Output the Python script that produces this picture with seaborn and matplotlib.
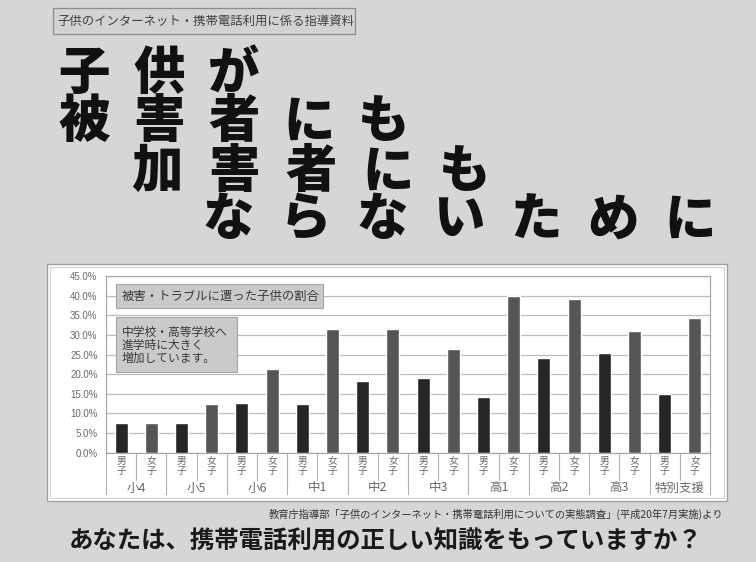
import matplotlib

matplotlib.use("Agg")
import matplotlib.pyplot as plt
from matplotlib.patches import Rectangle
from matplotlib.ticker import FuncFormatter
import pandas as pd
import seaborn as sns

W, H = 756, 562

# data (percent)
grades = ["小4", "小5", "小6", "中1", "中2", "中3", "高1", "高2", "高3", "特別支援"]
sexes = ["男子", "女子"]
boys = [7.5, 7.5, 12.7, 12.3, 18.2, 18.9, 14.2, 24.0, 25.4, 14.9]
girls = [7.5, 12.3, 21.2, 31.4, 31.4, 26.4, 39.9, 39.1, 31.1, 34.2]
y_ticks = [0, 5, 10, 15, 20, 25, 30, 35, 40, 45]

header = "子供のインターネット・携帯電話利用に係る指導資料"
title_lines = ["子供が", "被害者にも", "加害者にも", "ならないために"]
note_title = "被害・トラブルに遭った子供の割合"
note_body = ["中学校・高等学校へ", "進学時に大きく", "増加しています。"]
source = "教育庁指導部「子供のインターネット・携帯電話利用についての実態調査」(平成20年7月実施)より"
footer = "あなたは、携帯電話利用の正しい知識をもっていますか？"

sns.set_theme(style="white")
plt.rcParams["font.family"] = ["Noto Sans CJK JP", "DejaVu Sans"]

BG = "#d6d6d6"
BOY_C = "#262626"
GIRL_C = "#555555"
LABEL_C = "#6a6a6a"


def fx(x):
    return x / W


def fy(y):
    return 1 - y / H


def px_rect(x0, y0, x1, y1, **kw):
    return Rectangle((fx(x0), fy(y1)), (x1 - x0) / W, (y1 - y0) / H,
                     transform=fig.transFigure, **kw)


fig = plt.figure(figsize=(W / 100, H / 100), dpi=100, facecolor=BG)

# header tag
fig.add_artist(px_rect(53, 8, 355, 34, facecolor="#d2d2d2", edgecolor="#8c8c8c", lw=0.9))
fig.text(fx(57), fy(21), header, ha="left", va="center", fontsize=8.9, color="#404040")

# big staggered title, one glyph per slot to get the wide poster lettering
title_x0 = [84, 84, 157, 228]
title_pitch = [75, 75, 77, 77]
title_y = [74, 122, 172, 220]
for line, x0, pitch, yc in zip(title_lines, title_x0, title_pitch, title_y):
    for i, ch in enumerate(line):
        fig.text(fx(x0 + i * pitch), fy(yc), ch, ha="center", va="center",
                 fontsize=37, fontweight="black", color="#111111")

# white chart panel with double border
fig.add_artist(px_rect(47, 264, 727, 501, facecolor="white", edgecolor="#a0a0a0", lw=1.0))
fig.add_artist(px_rect(50, 267, 724, 498, facecolor="none", edgecolor="#d0d0d0", lw=0.8))

ax = fig.add_axes([fx(106), fy(452.7), 604 / W, 176.7 / H])
ax.set_zorder(2)
ax.patch.set_alpha(0)

rows = []
for g, b, gl in zip(grades, boys, girls):
    rows.append({"key": g + "男子", "sex": "男子", "value": b})
    rows.append({"key": g + "女子", "sex": "女子", "value": gl})
df = pd.DataFrame(rows)
keys = list(df["key"])

sns.barplot(data=df, x="key", y="value", hue="sex", order=keys,
            palette={"男子": BOY_C, "女子": GIRL_C}, dodge=False, width=0.43,
            saturation=1, legend=False, ax=ax, zorder=3)

ax.set_xlim(-0.5, len(keys) - 0.5)
ax.set_ylim(0, 45)
ax.set_yticks(y_ticks)
ax.yaxis.set_major_formatter(FuncFormatter(lambda v, _: f"{v:.1f}%"))
ax.tick_params(axis="y", length=0, pad=6, labelsize=7, labelcolor=LABEL_C)
for lab in ax.get_yticklabels():
    lab.set_fontfamily("Liberation Sans")
ax.set_xticks([])
ax.set_xlabel("")
ax.set_ylabel("")
ax.yaxis.grid(True, color="#bcbcbc", linewidth=0.9)
ax.set_axisbelow(True)
for side in ["left", "bottom", "right", "top"]:
    ax.spines[side].set_color("#a8a8a8")
    ax.spines[side].set_linewidth(0.9)

# two-level category axis
tr = ax.get_xaxis_transform()
ax_h = 176.7
for i, key in enumerate(keys):
    sex = df["sex"][i]
    ax.text(i, -(461 - 452.7) / ax_h, sex[0], transform=tr, ha="center", va="center",
            fontsize=7, color=LABEL_C)
    ax.text(i, -(471 - 452.7) / ax_h, sex[1], transform=tr, ha="center", va="center",
            fontsize=7, color=LABEL_C)
for k, g in enumerate(grades):
    ax.text(2 * k + 0.5, -(488 - 452.7) / ax_h, g, transform=tr, ha="center", va="center",
            fontsize=9, color=LABEL_C)
    ax.plot([2 * k + 0.5] * 2, [0, -(480 - 452.7) / ax_h], transform=tr,
            color="#b0b0b0", lw=0.8, clip_on=False)
for k in range(len(grades) + 1):
    ax.plot([2 * k - 0.5] * 2, [0, -(494 - 452.7) / ax_h], transform=tr,
            color="#b0b0b0", lw=0.8, clip_on=False)

# annotation boxes inside the chart
fig.add_artist(px_rect(116, 284, 323, 308, facecolor="#cacaca", edgecolor="#a5a5a5", lw=0.8, zorder=4))
fig.text(fx(122), fy(296), note_title, ha="left", va="center", fontsize=8.9,
         color="#3a3a3a", zorder=5)
fig.add_artist(px_rect(116, 317, 237, 372, facecolor="#cacaca", edgecolor="#a5a5a5", lw=0.8, zorder=4))
for j, line in enumerate(note_body):
    fig.text(fx(122), fy(332 + j * 13.3), line, ha="left", va="center", fontsize=8.5,
             color="#3a3a3a", zorder=5)

# source and closing question
fig.text(fx(723), fy(514), source, ha="right", va="center", fontsize=7.4, color="#333333")
fig.text(fx(386), fy(542), footer, ha="center", va="center", fontsize=17.6,
         fontweight="bold", color="#1a1a1a")

fig.savefig("out.png", dpi=100, facecolor=BG)
